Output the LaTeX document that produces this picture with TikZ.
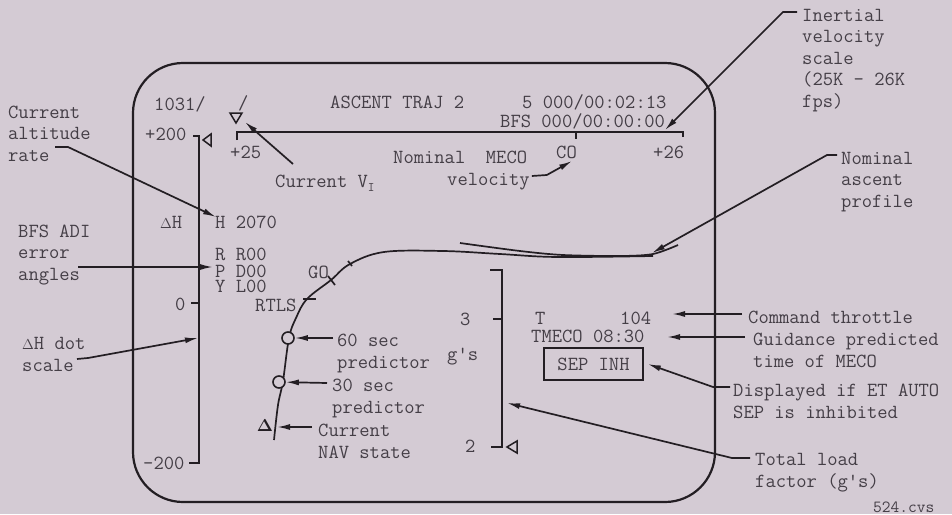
\documentclass[tikz,border=0pt]{standalone}
\usepackage{fontspec}
\usepackage{tikz}
\usetikzlibrary{arrows.meta, calc}
\definecolor{scanbg}{RGB}{212,203,212}
\definecolor{ink}{RGB}{35,30,35}
\definecolor{inktxt}{RGB}{68,62,70}

\begin{document}
\begin{tikzpicture}[
    x=1pt, y=-1pt,
    lbl/.style={anchor=base west, inner sep=0pt, align=left, text=inktxt, font=\ttfamily\fontsize{20}{21.5}\selectfont},
    frame/.style={draw=ink, line width=2.2pt, rounded corners=50pt},
    scl/.style={draw=ink, line width=1.8pt},
    lead/.style={draw=ink, line width=1.7pt},
    arrow/.style={lead, -{Latex[length=13pt,width=6pt]}},
    pred/.style={circle, draw=ink, fill=scanbg, line width=1.6pt, minimum size=12pt, inner sep=0pt}
]
    \fill[scanbg] (0,0) rectangle (952,514);
    \useasboundingbox (0,0) rectangle (952,514);

    % screen outline
    \draw[frame] (133,63) rectangle (715,502);

    % header lines
    \node[lbl] (dispno) at (154,110) {1031/};
    \node[lbl] (slash) at (238,109) {/};
    \node[lbl] (title) at (330,108) {ASCENT TRAJ 2};
    \node[lbl] (met) at (522,108) {5 000/00:02:13};
    \node[lbl] (bfs) at (500,127) {BFS 000/00:00:00};

    % inertial velocity scale
    \draw[scl] (237,140) -- (237,132) -- (683,132) -- (683,137);
    \draw[scl] (576,132) -- (576,139);
    \draw[scl, line width=1.5pt] (230,113) -- (242,113) -- (236,123) -- cycle;
    \coordinate (vipt) at (245,122);
    \coordinate (mecopt) at (572,161);
    \coordinate (vscalept) at (665,130);
    \node[lbl] (p25) at (230,158) {+25};
    \node[lbl] (co) at (556,158) {CO};
    \node[lbl] (p26) at (653,158) {+26};
    \node[lbl] (nommeco) at (393,163) {Nominal~~MECO};
    \node[lbl] (velo) at (447,185) {velocity};
    \node[lbl] (curvi) at (275,187) {Current V\raisebox{-4pt}{\fontsize{13}{13}\selectfont I}};

    % delta H scale
    \draw[scl] (193,136) -- (199,136) -- (199,463) -- (189,463);
    \draw[scl] (191,303) -- (199,303);
    \draw[scl, line width=1.5pt] (203,140) -- (211,134) -- (211,146) -- cycle;
    \coordinate (dhdotpt) at (198,338);
    \node[lbl] (p200) at (145,140) {+200};
    \node[lbl] (zero) at (175,310) {0};
    \node[lbl] (m200) at (143,469) {-200};
    \node[lbl] (dh) at (160,228) {{\fontsize{15}{15}\selectfont$\Delta$}H};
    \node[lbl] (hdot) at (215,228) {H 2070};
    \node[lbl] (roll) at (215,260) {R R00};
    \node[lbl] (pitch) at (215,277) {P D00};
    \node[lbl] (yaw) at (215,292) {Y L00};

    % trajectory and nominal profile
    \draw[lead] plot[smooth, tension=0.6] coordinates {(274,440) (278,405) (283,381) (289,338) (296,318) (307,299) (331,280) (350,264) (384,252) (443,251) (500,254) (557,257) (653,256)};
    \draw[lead] plot[smooth] coordinates {(460,243) (520,251) (563,255) (620,256) (653,254) (678,245)};
    \coordinate (nompt) at (652,253);
    \draw[lead] (303,299) -- (316,299);
    \draw[lead] (328,276) -- (335,285);
    \draw[lead] (348,261) -- (352,266);
    \node[lbl] (go) at (308,278) {GO};
    \node[lbl] (rtls) at (255,311) {RTLS};
    \node[pred] (c60) at (288,338) {};
    \node[pred] (c30) at (279,382) {};
    \node[text=ink, inner sep=0pt, font=\fontsize{16}{18}\selectfont\boldmath] (nav) at (265,426) {$\Delta$};
    \coordinate (navpt) at (277,427);

    % g scale
    \draw[scl] (490,270) -- (502,270) -- (502,447) -- (491,447);
    \draw[scl] (493,319) -- (502,319);
    \draw[scl, line width=1.5pt] (507,447) -- (517,441) -- (517,453) -- cycle;
    \coordinate (gpt) at (507,403);
    \node[lbl] (three) at (460,325) {3};
    \node[lbl] (gs) at (447,360) {g's};
    \node[lbl] (two) at (465,452) {2};

    % throttle and MECO
    \node[lbl] (thr) at (535,324) {T};
    \node[lbl] (thrval) at (620,324) {104};
    \node[lbl] (tmeco) at (531,342) {TMECO 08:30};
    \coordinate (thrpt) at (672,314);
    \coordinate (tmecopt) at (667,337);
    \node[draw=ink, line width=1.6pt, minimum width=99pt, minimum height=32pt, inner sep=0pt, text=inktxt, font=\ttfamily\fontsize{20}{21.5}\selectfont] (sep) at (593.5,364) {SEP INH};

    % callouts (multi-line nodes sit on their last baseline)
    \node[lbl] (altrate) at (8,161) {Current\\altitude\\rate};
    \node[lbl] (adi) at (18,280) {BFS ADI\\error\\angles};
    \node[lbl] (dhdot) at (22,371) {{\fontsize{15}{15}\selectfont$\Delta$}H dot\\scale};
    \node[lbl] (inertial) at (802,107) {Inertial\\velocity\\scale\\(25K - 26K\\fps)};
    \node[lbl] (nomprof) at (841,207) {Nominal\\ascent\\profile};
    \node[lbl] (sixty) at (337,368) {60 sec\\predictor};
    \node[lbl] (thirty) at (332,413) {30 sec\\predictor};
    \node[lbl] (curnav) at (318,458) {Current\\NAV state};
    \node[lbl] (cmd) at (748,323) {Command throttle};
    \node[lbl] (guid) at (753,367) {Guidance predicted\\time of MECO};
    \node[lbl] (sepnote) at (733,418) {Displayed if ET AUTO\\SEP is inhibited};
    \node[lbl] (total) at (755,487) {Total load\\factor (g's)};
    \node[lbl, font=\ttfamily\fontsize{17}{18}\selectfont] (cvs) at (873,512) {524.cvs};

    \draw[arrow] ($(altrate.base west)+(47,-14)$) -- ++(13,0) -- ($(hdot.base west)+(1,-11)$);
    \draw[arrow] ($(adi.base west)+(60,-13)$) -- ($(pitch.base west)+(-2,-10)$);
    \draw[arrow] ($(dhdot.base west)+(55,-12)$) -- ++(11,-1) -- (dhdotpt);
    \draw[arrow] ($(curvi.base west)+(18,-23)$) -- (vipt);
    \draw[arrow] ($(velo.base east)+(2,-9)$) -- ++(15,-1) -- (mecopt);
    \draw[arrow] ($(inertial.base west)+(-5,-95)$) -- ++(-14,0) -- (vscalept);
    \draw[arrow] ($(nomprof.base west)+(-4,-52)$) -- ++(-10,0) -- (nompt);
    \draw[arrow] ($(sixty.base west)+(-4,-30)$) -- (c60);
    \draw[arrow] ($(thirty.base west)+(-5,-30)$) -- (c30);
    \draw[arrow] ($(curnav.base west)+(-6,-31)$) -- (navpt);
    \draw[arrow] ($(cmd.base west)+(-6,-9)$) -- (thrpt);
    \draw[arrow] ($(guid.base west)+(-8,-30)$) -- (tmecopt);
    \draw[arrow] ($(sepnote.base west)+(-3,-31)$) -- ++(-17,0) -- ([xshift=4pt]sep.east);
    \draw[arrow] ($(total.base west)+(-5,-29)$) -- ++(-18,0) -- (gpt);
\end{tikzpicture}
\end{document}
